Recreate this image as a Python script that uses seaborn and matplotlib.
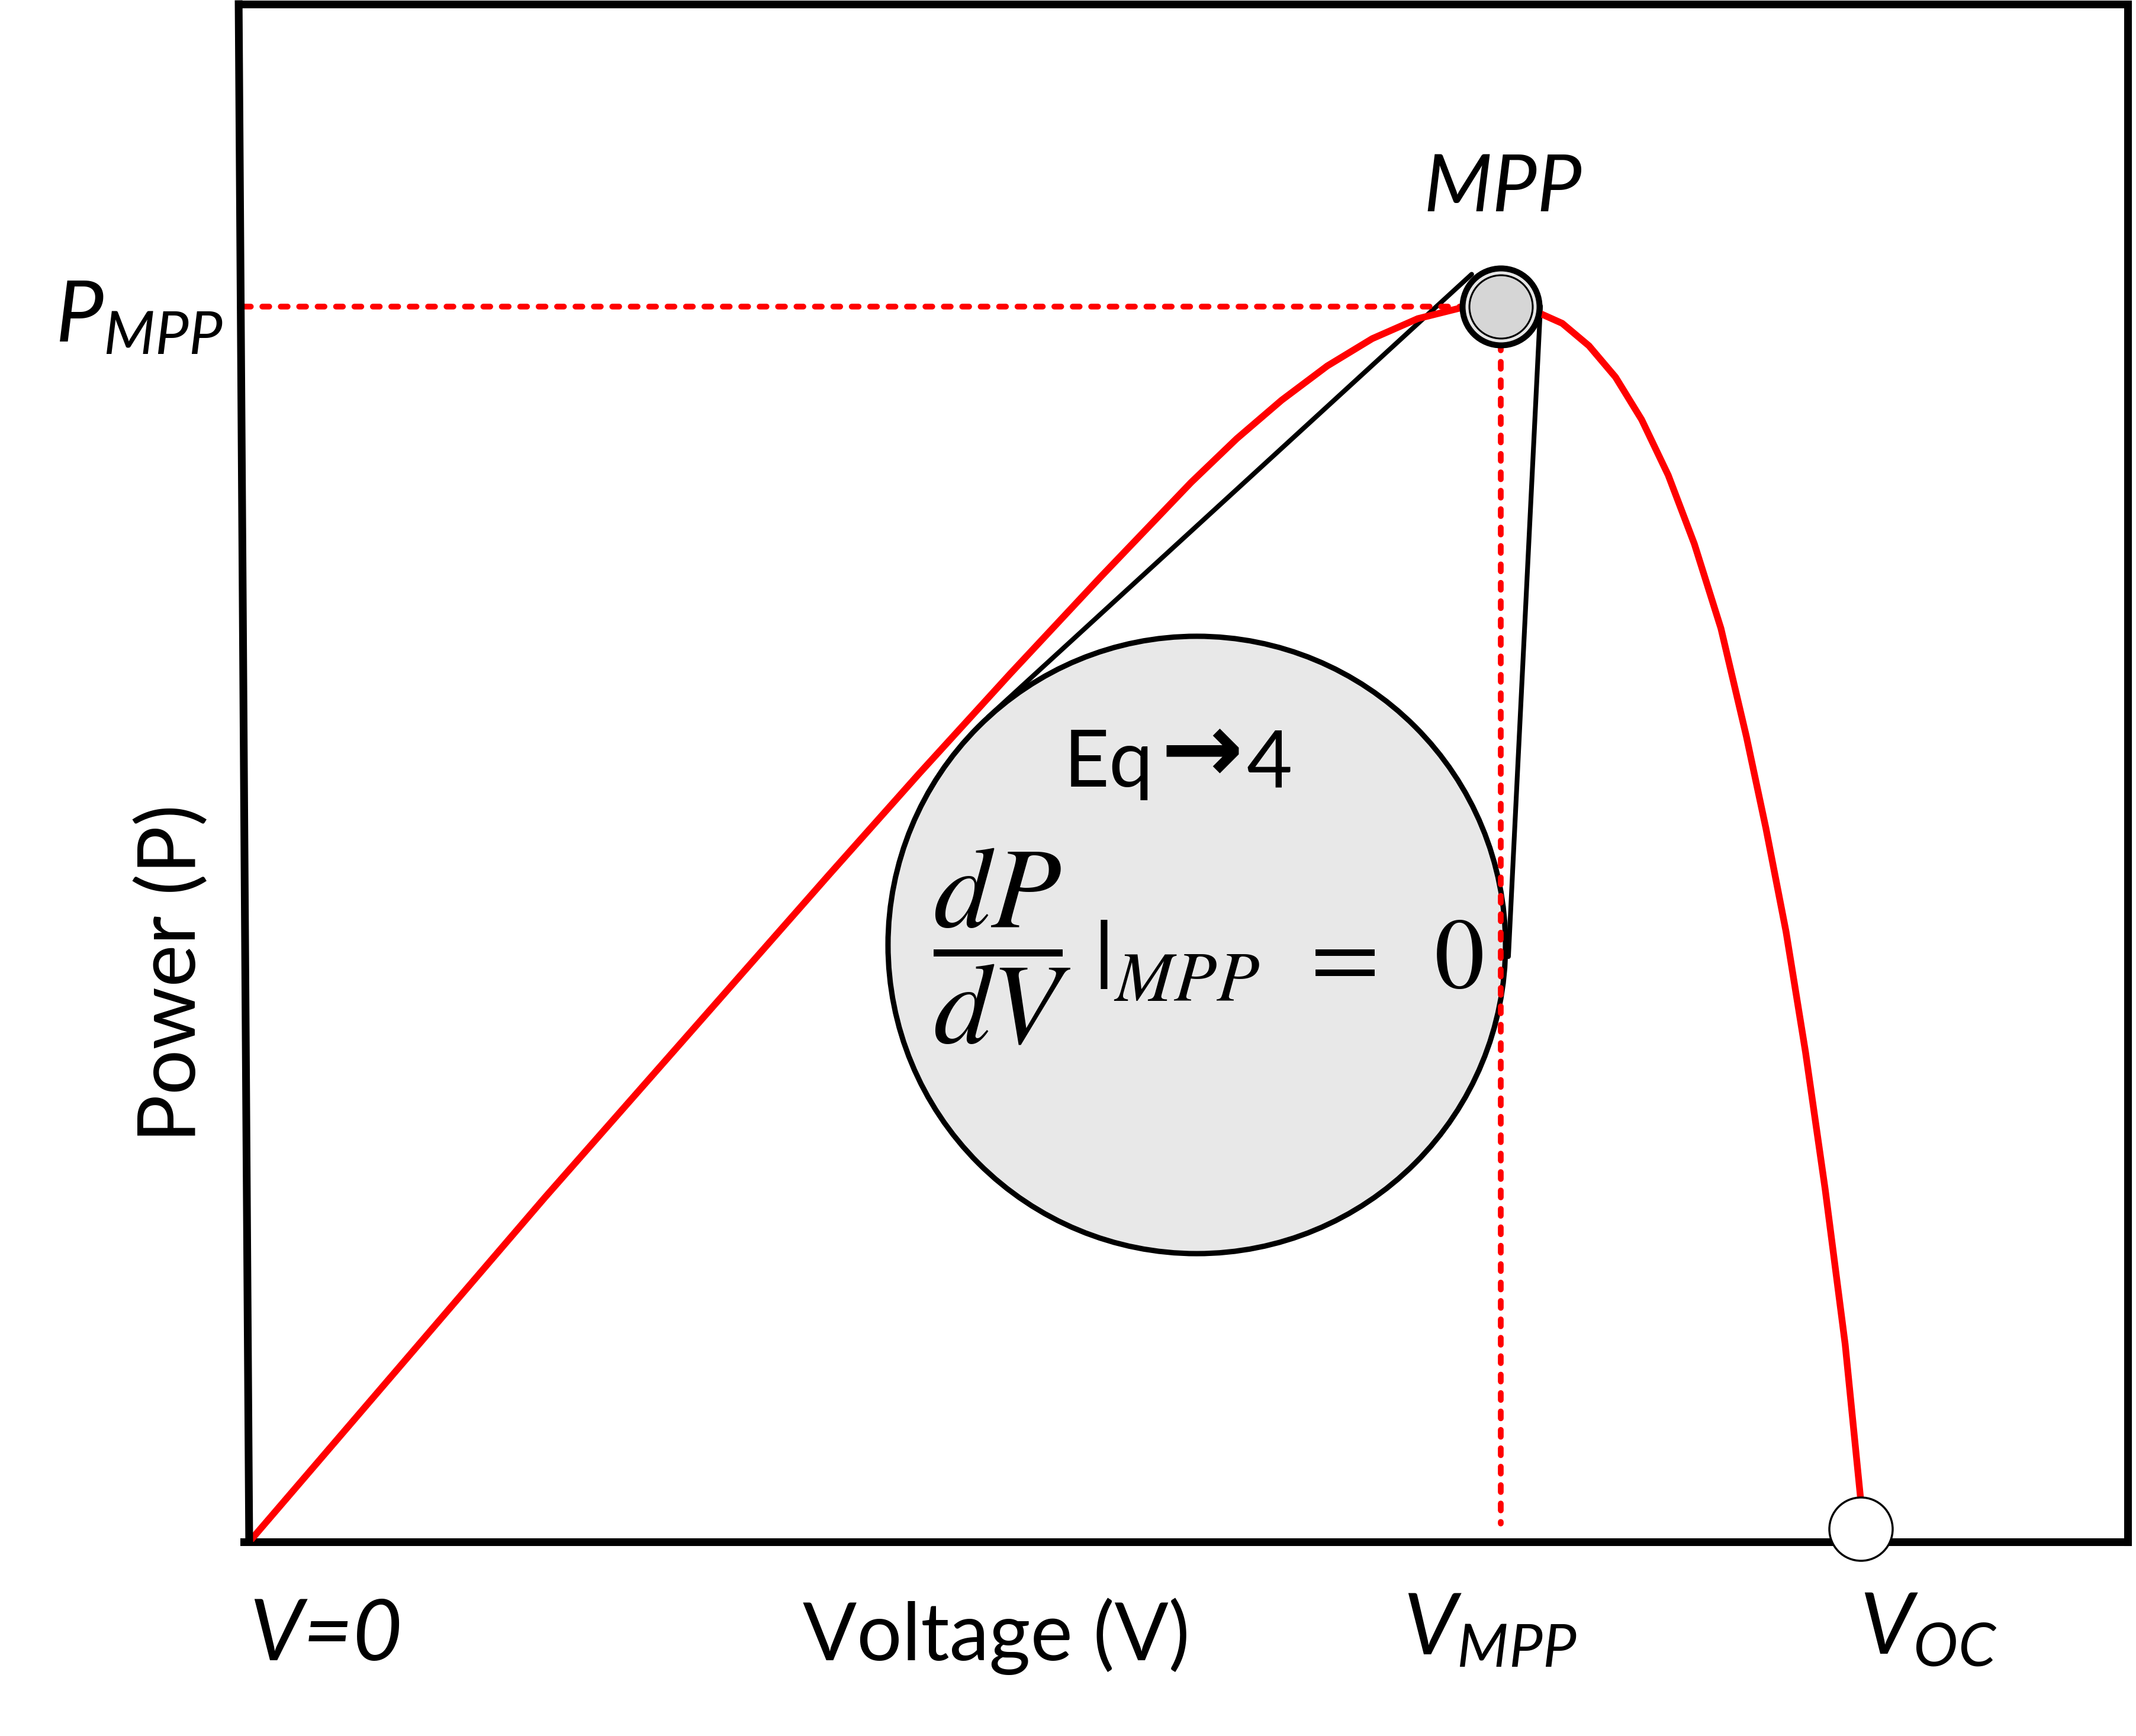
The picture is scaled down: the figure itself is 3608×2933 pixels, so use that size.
import seaborn as sns
import pandas as pd
import matplotlib as mpl
from matplotlib import pyplot as plt

sns.set_style("white")
plt.rcParams['font.family'] = ['Lato', 'DejaVu Sans']
plt.rcParams['text.color'] = 'black'
plt.rcParams['axes.labelcolor'] = 'black'
plt.rcParams['mathtext.fontset'] = 'custom'
plt.rcParams['mathtext.rm'] = 'Lato'
plt.rcParams['mathtext.it'] = 'Lato:italic'
plt.rcParams['mathtext.bf'] = 'Lato:bold'

# P-V curve, normalised: V / Voc and P / P_mpp
voltage = [0.0, 0.1833, 0.3597, 0.4159, 0.4721, 0.5283, 0.5845, 0.6128, 0.6407,
           0.6690, 0.6969, 0.7252, 0.7531, 0.7766, 0.7968, 0.8148, 0.8314, 0.8479,
           0.8641, 0.8806, 0.8968, 0.9133, 0.9291, 0.9412, 0.9537, 0.9658, 0.9780,
           0.9904, 1.0, 1.0]
power = [0.0, 0.2786, 0.5400, 0.6223, 0.7027, 0.7812, 0.8578, 0.8932, 0.9244,
         0.9521, 0.9742, 0.9904, 0.9995, 1.0, 0.9971, 0.9866, 0.9684, 0.9430,
         0.9086, 0.8636, 0.8080, 0.7396, 0.6520, 0.5778, 0.4940, 0.3964, 0.2853,
         0.1599, 0.0345, 0.0105]

mpp_v, mpp_p = 0.7766, 1.0
voc_v, voc_p = 1.0, 0.0105

# callout bubble and its two legs
bubble_v, bubble_p = 0.5878, 0.4835
leg1_v = [0.4585, 0.7586]
leg1_p = [0.6678, 1.0263]
leg2_v = [0.7814, 0.8013]
leg2_p = [0.4739, 1.0005]

df = pd.DataFrame({'Voltage': voltage, 'Power': power})

fig = plt.figure(figsize=(36.08, 29.33), dpi=100)
ax = fig.add_axes([0.1142, 0.1118, 0.8819, 0.8858])
ax.set_xlim(-0.0033, 1.1657)
ax.set_ylim(0, 1.245)

# bubble + legs
ax.plot(leg1_v, leg1_p, color='black', linewidth=5.8, zorder=1.9, solid_capstyle='round')
ax.plot(leg2_v, leg2_p, color='black', linewidth=5.8, zorder=1.9, solid_capstyle='round')
ax.plot([bubble_v], [bubble_p], marker='o', markersize=751, markerfacecolor='#e8e8e8',
        markeredgecolor='black', markeredgewidth=6.5, linestyle='none', zorder=2)

sns.lineplot(data=df, x='Voltage', y='Power', sort=False, estimator=None,
             color='red', linewidth=8.2, ax=ax, zorder=3)

# dotted guides to MPP
ax.plot([ax.get_xlim()[0], mpp_v], [mpp_p, mpp_p], color='red', linewidth=7,
        linestyle=(0, (1.2, 2.0)), dash_capstyle='round', zorder=3)
ax.plot([mpp_v, mpp_v], [mpp_p, 0.015], color='red', linewidth=7,
        linestyle=(0, (1.2, 2.0)), dash_capstyle='round', zorder=3)

# MPP and Voc markers
ax.plot([mpp_v], [mpp_p], marker='o', markersize=93.6, markerfacecolor='#e6e6e6',
        markeredgecolor='black', markeredgewidth=7.2, linestyle='none', zorder=5)
ax.plot([mpp_v], [mpp_p], marker='o', markersize=77, markerfacecolor='#d6d6d6',
        markeredgecolor='black', markeredgewidth=2.2, linestyle='none', zorder=6)
ax.plot([voc_v], [voc_p], marker='o', markersize=77, markerfacecolor='white',
        markeredgecolor='black', markeredgewidth=2.5, linestyle='none', zorder=6,
        clip_on=False)

for s in ax.spines.values():
    s.set_linewidth(9.4)
    s.set_color('black')
# the left edge of the frame leans slightly in the original
ax.spines['left'].set_visible(False)
ax.plot([-0.0028, 0.0028], [1.0, 0.0], transform=ax.transAxes, color='black',
        linewidth=9.4, solid_capstyle='projecting', clip_on=False, zorder=4)
ax.set_xticks([])
ax.set_yticks([])
ax.set_xlabel('')
ax.set_ylabel('')

# labels
ax.text(0.7778, 1.0771, 'MPP', fontsize=97, fontstyle='italic', ha='center',
        va='baseline', clip_on=False)
ax.text(-0.1205, 0.9718, r'$P_{MPP}$', fontsize=104, ha='left', va='baseline',
        clip_on=False)
ax.text(0.0, -0.0957, 'V=0', fontsize=104, fontstyle='italic', ha='left',
        va='baseline', clip_on=False)
ax.text(0.4636, -0.0957, 'Voltage (V)', fontsize=97, ha='center', va='baseline',
        clip_on=False)
ax.text(0.716, -0.091, r'$V_{MPP}$', fontsize=104, ha='left', va='baseline',
        clip_on=False)
ax.text(0.9993, -0.091, r'$V_{OC}$', fontsize=104, ha='left', va='baseline',
        clip_on=False)
ax.text(-0.0481, 0.4605, 'Power (P)', fontsize=97, rotation=90, ha='center',
        va='center', clip_on=False)

# text inside the bubble
ax.text(0.5610, 0.6113, 'Eq', fontsize=96, ha='right', va='baseline', zorder=7)
ax.text(0.5911, 0.6376, '\u2192', fontsize=120, family='DejaVu Sans',
        fontweight='bold', ha='center', va='center', zorder=7)
ax.text(0.6187, 0.6113, '4', fontsize=96, ha='left', va='baseline', zorder=7)
ax.text(0.4673, 0.4821, r'$\dfrac{dP}{dV}$', fontsize=140,
        math_fontfamily='stix', ha='center', va='center', zorder=7)
ax.text(0.5239, 0.4485, r'$|_{MPP}\;\,=\;\;0$', fontsize=122,
        math_fontfamily='stix', ha='left', va='baseline', zorder=7)

plt.savefig("out.png", dpi=100)
